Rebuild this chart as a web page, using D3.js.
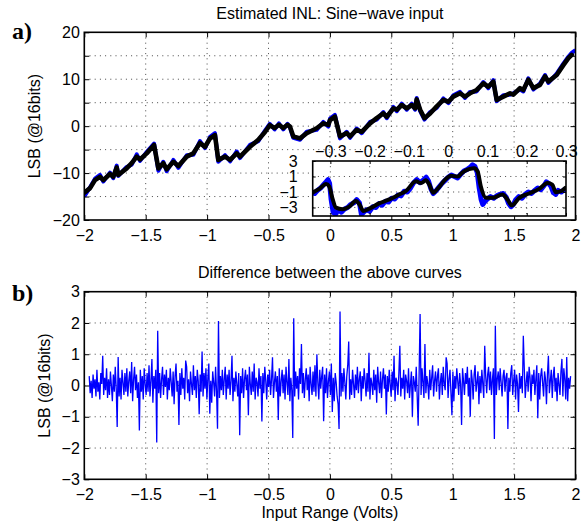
<!DOCTYPE html>
<html><head><meta charset="utf-8">
<script src="https://cdn.jsdelivr.net/npm/d3@7/dist/d3.min.js"></script>
<style>body{margin:0;background:#fff}</style>
</head><body>
<svg id="c" width="588" height="524"></svg>
<script>
// ---------- DATA ----------
const xTicks = [-2,-1.5,-1,-0.5,0,0.5,1,1.5,2];
const topYTicks = [-20,-15,-10,-5,0,5,10,15,20];
const topYLabels = [-20,-10,0,10,20];
const botYTicks = [-3,-2,-1,0,1,2,3];
const insetXTicks = [-0.3,-0.2,-0.1,0,0.1,0.2,0.3];
const insetYTicks = [-3,-1,1,3];

// main INL, black (smoothed) estimate
const mainX = [-2.0,-1.953,-1.913,-1.872,-1.845,-1.791,-1.764,-1.736,-1.723,-1.655,-1.614,-1.573,-1.546,-1.492,-1.432,-1.397,-1.357,-1.329,-1.275,-1.234,-1.166,-1.112,-1.058,-1.017,-0.976,-0.936,-0.909,-0.854,-0.813,-0.759,-0.732,-0.651,-0.583,-0.53,-0.49,-0.45,-0.415,-0.38,-0.345,-0.325,-0.298,-0.243,-0.189,-0.108,-0.054,-0.013,0.001,0.041,0.082,0.137,0.164,0.218,0.259,0.327,0.381,0.435,0.463,0.517,0.545,0.585,0.626,0.667,0.694,0.707,0.735,0.770,0.816,0.870,0.924,0.965,1.005,1.060,1.100,1.141,1.195,1.250,1.290,1.331,1.358,1.412,1.467,1.494,1.548,1.575,1.616,1.657,1.711,1.752,1.779,1.847,1.901,1.942,1.969];
const mainInl = [-14.2,-13.2,-11.5,-10.8,-11.5,-10.2,-10.8,-8.8,-10.4,-9.0,-7.9,-6.5,-7.1,-5.8,-4.0,-9.0,-7.9,-9.2,-7.6,-8.5,-6.5,-5.8,-3.6,-4.4,-2.6,-1.9,-7.2,-6.5,-7.2,-5.8,-6.5,-4.4,-2.9,-1.3,0.2,-0.4,0.3,-0.4,0.3,-0.1,-2.2,-2.6,-1.5,-0.45,0.6,0.26,1.3,2.0,-2.2,-1.5,-2.2,-0.8,-1.2,0.6,1.7,2.7,2.0,3.8,3.5,4.5,3.8,4.5,3.8,5.7,3.5,1.7,2.7,4.2,5.6,5.2,6.3,7.0,6.3,7.0,7.7,9.1,8.4,9.5,5.6,6.3,7.0,6.7,8.1,7.7,9.9,8.1,8.8,10.6,9.5,10.9,13.0,14.5,15.2];
// main INL, blue (raw) estimate
const mainBlueX = mainX.concat([2.0]);
const mainBlueInl = [-15.0,-13.0,-11.2,-10.4,-11.8,-9.9,-11.1,-8.4,-10.6,-8.7,-8.2,-6.0,-7.4,-5.5,-3.7,-9.5,-7.6,-9.6,-7.2,-8.9,-6.2,-6.1,-3.2,-4.7,-2.3,-1.5,-7.6,-6.2,-7.5,-5.4,-6.8,-4.0,-3.2,-1.0,0.5,-0.7,0.6,-0.7,0.5,-0.3,-2.5,-2.9,-1.2,-0.8,0.9,-0.1,1.6,2.4,-2.6,-1.2,-2.5,-0.5,-1.5,0.9,1.4,3.0,1.7,4.1,3.2,4.8,3.5,4.8,3.5,6.0,3.2,1.4,3.0,3.9,5.9,4.9,6.6,7.3,6.0,7.3,7.4,9.4,8.1,9.8,5.3,6.6,6.7,7.0,7.8,7.4,10.2,7.8,9.1,10.9,9.2,11.2,13.3,14.8,15.6,16.2];

// inset (zoom on [-0.35,0.3])
const insetX = [-0.347,-0.328,-0.311,-0.303,-0.294,-0.286,-0.269,-0.252,-0.235,-0.226,-0.216,-0.201,-0.176,-0.150,-0.125,-0.108,-0.082,-0.069,-0.057,-0.048,-0.038,-0.027,-0.006,0.007,0.024,0.036,0.053,0.066,0.075,0.083,0.096,0.113,0.138,0.151,0.162,0.181,0.206,0.232,0.253,0.265,0.274,0.287,0.298];
const insetInl = [-1.11,-0.6,0.04,-0.27,-1.96,-3.02,-3.23,-2.89,-2.17,-2.6,-3.45,-3.15,-2.47,-1.96,-1.33,-0.9,0.37,0.16,0.5,-0.05,-1.11,-0.6,0.67,1.09,1.0,1.51,1.94,2.07,1.64,-0.27,-1.75,-1.75,-1.33,-1.96,-2.73,-1.75,-1.2,-0.6,0.16,-0.05,-1.03,-0.9,-0.47];
const insetBlueX = [-0.347,-0.34,-0.333,-0.325,-0.318,-0.311,-0.306,-0.302,-0.298,-0.293,-0.287,-0.28,-0.272,-0.264,-0.256,-0.248,-0.24,-0.233,-0.226,-0.221,-0.215,-0.208,-0.2,-0.192,-0.184,-0.176,-0.168,-0.16,-0.152,-0.144,-0.136,-0.128,-0.12,-0.112,-0.104,-0.096,-0.088,-0.08,-0.072,-0.064,-0.056,-0.05,-0.044,-0.038,-0.032,-0.024,-0.016,-0.008,0.0,0.008,0.016,0.024,0.032,0.04,0.048,0.056,0.062,0.068,0.074,0.079,0.084,0.088,0.094,0.1,0.108,0.116,0.124,0.132,0.14,0.148,0.154,0.16,0.166,0.172,0.18,0.188,0.196,0.204,0.212,0.22,0.228,0.236,0.244,0.25,0.256,0.262,0.268,0.274,0.28,0.288,0.298];
const insetBlueInl = [-1.0,-1.2,-0.8,-0.5,-0.1,0.3,0.6,0.1,-2.0,-3.6,-3.9,-3.3,-3.6,-3.2,-3.0,-2.6,-2.4,-2.0,-2.4,-3.9,-3.6,-3.3,-3.5,-2.9,-3.0,-2.5,-2.7,-2.2,-2.3,-1.8,-1.9,-1.4,-1.5,-0.9,-1.0,-0.5,0.2,0.6,0.2,0.5,0.9,0.4,-0.6,-1.2,-0.9,-0.4,0.1,0.5,0.9,1.2,1.0,0.8,1.3,1.7,1.9,2.2,2.5,2.3,1.5,-0.5,-2.0,-2.6,-2.2,-1.9,-1.6,-1.8,-1.5,-1.3,-1.2,-1.7,-2.5,-2.9,-2.6,-2.0,-1.6,-1.8,-1.3,-1.0,-1.2,-0.8,-0.5,-0.7,-0.2,0.3,0.1,-0.3,-1.1,-1.3,-0.8,-1.0,-0.6];

// difference between curves, sampled uniformly from -1.96 to 1.96 V
const diffRange = [-1.96, 1.96];
const diffVals = [
0.3,-0.25,0.15,-0.4,0.35,-0.1,0.2,-0.35,0.5,-0.2,0.1,-0.45,0.4,0.05,0.95,-0.3,0.25,-0.15,0.55,-0.4,
0.2,-0.3,0.45,0.0,-0.5,0.35,-0.2,0.6,-0.1,-1.33,0.91,-0.35,0.25,-0.45,0.5,0.1,-0.3,0.4,-0.2,0.55,
-0.35,0.15,0.45,-0.25,0.75,-0.5,0.2,0.6,-0.15,0.35,-0.4,0.1,-1.44,0.5,-0.2,0.3,-0.45,0.55,0.05,-0.3,
0.4,-0.2,0.65,-0.35,0.15,0.85,-0.55,0.3,-0.1,0.5,-1.82,1.75,-0.25,0.4,-0.4,0.2,0.6,-0.3,0.35,-0.05,
0.5,-0.45,0.25,-0.15,0.55,0.1,-0.35,0.45,-0.6,0.3,0.7,-0.2,0.15,-1.26,0.4,-0.3,0.55,-0.1,0.25,-0.45,
0.8,0.6,-0.25,0.2,-0.5,0.45,0.05,-0.3,0.65,-0.15,0.3,-0.4,0.5,0.15,-0.92,0.35,-0.2,1.09,-0.35,0.4,
-0.1,0.55,-0.45,0.25,0.7,-0.9,0.15,-0.55,0.45,0.1,-0.35,0.6,-0.2,-1.38,2.06,-0.4,0.3,-0.15,0.5,-0.3,
0.2,0.6,-0.45,0.35,-0.1,0.5,-0.3,0.15,0.95,-0.5,0.25,-0.2,0.45,0.05,-0.35,0.4,-1.59,0.3,-0.25,0.55,
-0.4,0.2,0.5,-0.15,0.35,-0.95,0.6,0.05,-0.3,0.45,-0.2,0.7,-0.45,0.25,0.1,-0.35,0.55,-0.1,0.3,-1.15,
0.4,-0.25,0.6,0.15,-0.45,0.35,-0.05,0.5,-0.3,0.2,0.9,-0.4,0.1,0.45,-0.2,0.3,-1.1,0.55,-0.35,0.15,
0.5,-0.25,0.35,-0.45,0.6,0.1,-0.3,0.85,-0.5,0.25,-0.15,-1.68,2.15,-0.35,0.45,-0.1,0.3,-0.45,0.55,0.05,
1.33,-0.25,0.4,-0.4,0.2,0.55,-0.15,0.35,-0.5,0.6,0.05,-0.3,0.45,-0.2,0.65,-0.35,1.0,0.1,-0.45,0.5,
-0.1,0.3,0.6,-1.14,0.35,-0.25,0.55,-0.4,0.15,0.45,-0.3,0.7,-0.85,0.25,-0.5,0.4,0.1,-0.35,-0.6,-1.39,
2.37,-0.35,0.4,-0.2,0.55,0.1,-0.45,0.3,0.65,1.41,-0.45,0.2,-0.3,0.5,0.05,-0.4,0.35,-0.15,0.6,-0.25,
0.2,0.45,-0.5,0.3,-0.1,0.55,0.15,-0.35,0.4,-0.2,1.05,-0.45,0.25,0.05,-0.3,0.5,-0.15,0.35,-0.55,0.6,
0.1,-0.25,0.45,-0.4,0.2,0.55,-0.1,0.35,-0.93,0.3,-0.2,0.5,0.05,-0.35,0.45,-0.15,0.95,-0.5,0.25,0.1,
-0.3,0.4,1.27,-0.35,0.25,-0.1,0.5,-0.45,0.35,0.15,-0.25,0.55,-0.4,0.05,0.45,-1.0,0.3,0.1,-0.2,0.6,
-0.35,-1.29,0.4,2.29,-0.3,0.55,0.1,-0.4,1.33,-0.25,0.3,0.05,-0.45,0.5,-0.15,0.25,0.65,-0.35,0.15,0.45,
-0.2,0.3,0.55,-0.45,0.1,0.4,-0.3,0.6,0.05,-0.15,0.9,0.7,-0.4,0.2,0.5,-0.25,-0.95,0.45,-0.5,0.3,
-0.1,0.55,0.15,-0.3,0.4,0.05,-1.26,0.55,0.15,-0.3,0.4,0.05,0.6,-0.35,0.25,-1.0,0.5,0.2,-0.45,0.35,
0.65,-0.2,0.1,0.45,-0.6,0.3,-0.25,0.5,0.05,-0.4,1.27,0.3,-0.25,0.35,0.6,-0.15,0.45,-0.3,0.2,0.55,
-1.71,1.91,-0.3,0.2,0.45,-0.15,0.55,0.1,-0.35,0.3,0.5,-0.2,0.25,0.4,-1.39,0.25,-0.2,0.4,0.65,-0.3,
0.15,0.5,-0.45,0.35,0.05,-0.85,0.4,-0.1,0.3,-0.25,1.59,0.55,-0.4,0.1,0.45,-0.2,0.6,0.25,-0.5,0.35,
0.05,0.5,-0.3,0.2,0.65,-1.05,0.4,-0.45,0.3,0.55,0.1,-0.35,0.45,0.2,-0.6,0.35,0.95,-0.25,0.15,0.5,
-0.4,0.3,0.6,-0.2,0.25,-0.5,0.4,0.05,-0.3,0.45,0.85,-0.35,0.55,0.2,-0.45,0.91,-0.5,0.25,-0.1,0.3];

// ---------- DRAW ----------
const svg = d3.select("#c");
const FONT = "'Liberation Sans', Arial, Helvetica, sans-serif";
const fmt = v => String(v).replace("-", "\u2212");
const BLUE = "#0000ff";

const L = 84.3, R = 575.5;
const P1 = {top: 32.3, bottom: 220};
const P2 = {top: 291.7, bottom: 479.3};
const IN = {left: 312.7, right: 566, top: 161, bottom: 216};

const x = d3.scaleLinear().domain([-2, 2]).range([L, R]);
const y1 = d3.scaleLinear().domain([-20, 20]).range([P1.bottom, P1.top]);
const y2 = d3.scaleLinear().domain([-3, 3]).range([P2.bottom, P2.top]);
const xi = d3.scaleLinear().domain([-0.345, 0.3]).range([IN.left, IN.right]);
const yi = d3.scaleLinear().domain([-4.1, 3]).range([IN.bottom, IN.top]);

const defs = svg.append("defs");
function clip(id, x0, y0, w, h) {
  defs.append("clipPath").attr("id", id).append("rect").attr("x", x0).attr("y", y0).attr("width", w).attr("height", h);
}
clip("c1", L, P1.top, R - L, P1.bottom - P1.top);
clip("c2", L, P2.top, R - L, P2.bottom - P2.top);
clip("ci", IN.left, IN.top, IN.right - IN.left, IN.bottom - IN.top);

function grid(g, xs, ys, xsc, ysc, x0, x1, y0, y1_) {
  g.selectAll(null).data(xs).enter().append("line")
    .attr("x1", d => xsc(d)).attr("x2", d => xsc(d)).attr("y1", y0).attr("y2", y1_)
    .attr("stroke", "#333").attr("stroke-width", 0.9).attr("stroke-dasharray", "1,4.2");
  g.selectAll(null).data(ys).enter().append("line")
    .attr("y1", d => ysc(d)).attr("y2", d => ysc(d)).attr("x1", x0).attr("x2", x1)
    .attr("stroke", "#333").attr("stroke-width", 0.9).attr("stroke-dasharray", "1,4.2");
}

function frameAxes(g, xsc, ysc, xt, yt, x0, x1, y0, y1_, tl, xLabFn, yLabFn, xTop, padX, padY) {
  const st = sel => { sel.select(".domain").remove(); sel.selectAll("line").attr("stroke", "#000").attr("stroke-width", 1); sel.selectAll("text").attr("font-family", FONT).attr("font-size", 16).attr("fill", "#000"); };
  g.append("g").attr("transform", `translate(0,${y1_})`)
    .call(d3.axisBottom(xsc).tickValues(xt).tickSizeInner(-tl).tickSizeOuter(0).tickPadding(padX).tickFormat(xTop ? () => "" : xLabFn)).call(st);
  g.append("g").attr("transform", `translate(0,${y0})`)
    .call(d3.axisTop(xsc).tickValues(xt).tickSizeInner(-tl).tickSizeOuter(0).tickPadding(padX).tickFormat(xTop ? xLabFn : () => "")).call(st);
  g.append("g").attr("transform", `translate(${x0},0)`)
    .call(d3.axisLeft(ysc).tickValues(yt).tickSizeInner(-tl).tickSizeOuter(0).tickPadding(padY).tickFormat(yLabFn)).call(st);
  g.append("g").attr("transform", `translate(${x1},0)`)
    .call(d3.axisRight(ysc).tickValues(yt).tickSizeInner(-tl).tickSizeOuter(0).tickFormat(() => "")).call(st);
  g.append("rect").attr("x", x0).attr("y", y0).attr("width", x1 - x0).attr("height", y1_ - y0)
    .attr("fill", "none").attr("stroke", "#000").attr("stroke-width", 1.6);
}

// ---- Panel a ----
const ga = svg.append("g");
grid(ga, xTicks.slice(1, -1), topYTicks.slice(1, -1), x, y1, L, R, P1.top, P1.bottom);
const lineMain = d3.line().x(d => x(d[0])).y(d => y1(d[1])).curve(d3.curveLinear);
ga.append("path").datum(d3.zip(mainBlueX, mainBlueInl)).attr("clip-path", "url(#c1)")
  .attr("d", lineMain).attr("fill", "none").attr("stroke", BLUE).attr("stroke-width", 4).attr("stroke-linejoin", "round");
ga.append("path").datum(d3.zip(mainX, mainInl)).attr("clip-path", "url(#c1)")
  .attr("d", lineMain).attr("fill", "none").attr("stroke", "#000").attr("stroke-width", 4.6).attr("stroke-linejoin", "round").attr("stroke-linecap", "round");
frameAxes(ga, x, y1, xTicks, topYTicks, L, R, P1.top, P1.bottom, 5,
  fmt, d => topYLabels.includes(d) ? fmt(d) : "", false, 9.5, 4.5);

// inset
const gi = svg.append("g");
gi.append("rect").attr("x", IN.left).attr("y", IN.top).attr("width", IN.right - IN.left).attr("height", IN.bottom - IN.top).attr("fill", "#fff");
grid(gi, insetXTicks.slice(0, -1), insetYTicks.slice(0, -1), xi, yi, IN.left, IN.right, IN.top, IN.bottom);
const lineIn = d3.line().x(d => xi(d[0])).y(d => yi(d[1])).curve(d3.curveMonotoneX);
gi.append("path").datum(d3.zip(insetBlueX, insetBlueInl)).attr("clip-path", "url(#ci)")
  .attr("d", d3.line().x(d => xi(d[0])).y(d => yi(d[1]))).attr("fill", "none").attr("stroke", BLUE).attr("stroke-width", 5).attr("stroke-linejoin", "round");
gi.append("path").datum(d3.zip(insetX, insetInl)).attr("clip-path", "url(#ci)")
  .attr("d", lineIn).attr("fill", "none").attr("stroke", "#000").attr("stroke-width", 4).attr("stroke-linejoin", "round").attr("stroke-linecap", "round");
frameAxes(gi, xi, yi, insetXTicks, insetYTicks, IN.left, IN.right, IN.top, IN.bottom, 3,
  fmt, fmt, true, 4.5, 15);

// ---- Panel b ----
const gb = svg.append("g");
grid(gb, xTicks.slice(1, -1), botYTicks.slice(1, -1), x, y2, L, R, P2.top, P2.bottom);
const xIdx = d3.scaleLinear().domain([0, diffVals.length - 1]).range(diffRange);
gb.append("path").datum(diffVals).attr("clip-path", "url(#c2)")
  .attr("d", d3.line().x((d, i) => x(xIdx(i))).y(d => y2(d)))
  .attr("fill", "none").attr("stroke", BLUE).attr("stroke-width", 1.3).attr("stroke-linejoin", "miter");
frameAxes(gb, x, y2, xTicks, botYTicks, L, R, P2.top, P2.bottom, 5,
  fmt, fmt, false, 9.5, 4.5);

// ---- texts ----
const txt = (t, xx, yy, opts = {}) => svg.append("text").text(t).attr("x", xx).attr("y", yy)
  .attr("font-family", opts.family || FONT).attr("font-size", opts.size || 16)
  .attr("font-weight", opts.weight || "normal").attr("text-anchor", opts.anchor || "middle")
  .attr("transform", opts.rot ? `rotate(-90,${xx},${yy})` : null).attr("fill", "#000");

txt("Estimated INL: Sine\u2212wave input", (L + R) / 2, 19);
txt("Difference between the above curves", (L + R) / 2, 278);
txt("Input Range (Volts)", (L + R) / 2, 518);
txt("LSB (@16bits)", 40.5, (P1.top + P1.bottom) / 2, {rot: true});
txt("LSB (@16bits)", 50, (P2.top + P2.bottom) / 2, {rot: true});
txt("a)", 12, 38.5, {family: "'Liberation Serif', 'Times New Roman', serif", weight: "bold", size: 24, anchor: "start"});
txt("b)", 12, 301, {family: "'Liberation Serif', 'Times New Roman', serif", weight: "bold", size: 24, anchor: "start"});
</script>
</body></html>
